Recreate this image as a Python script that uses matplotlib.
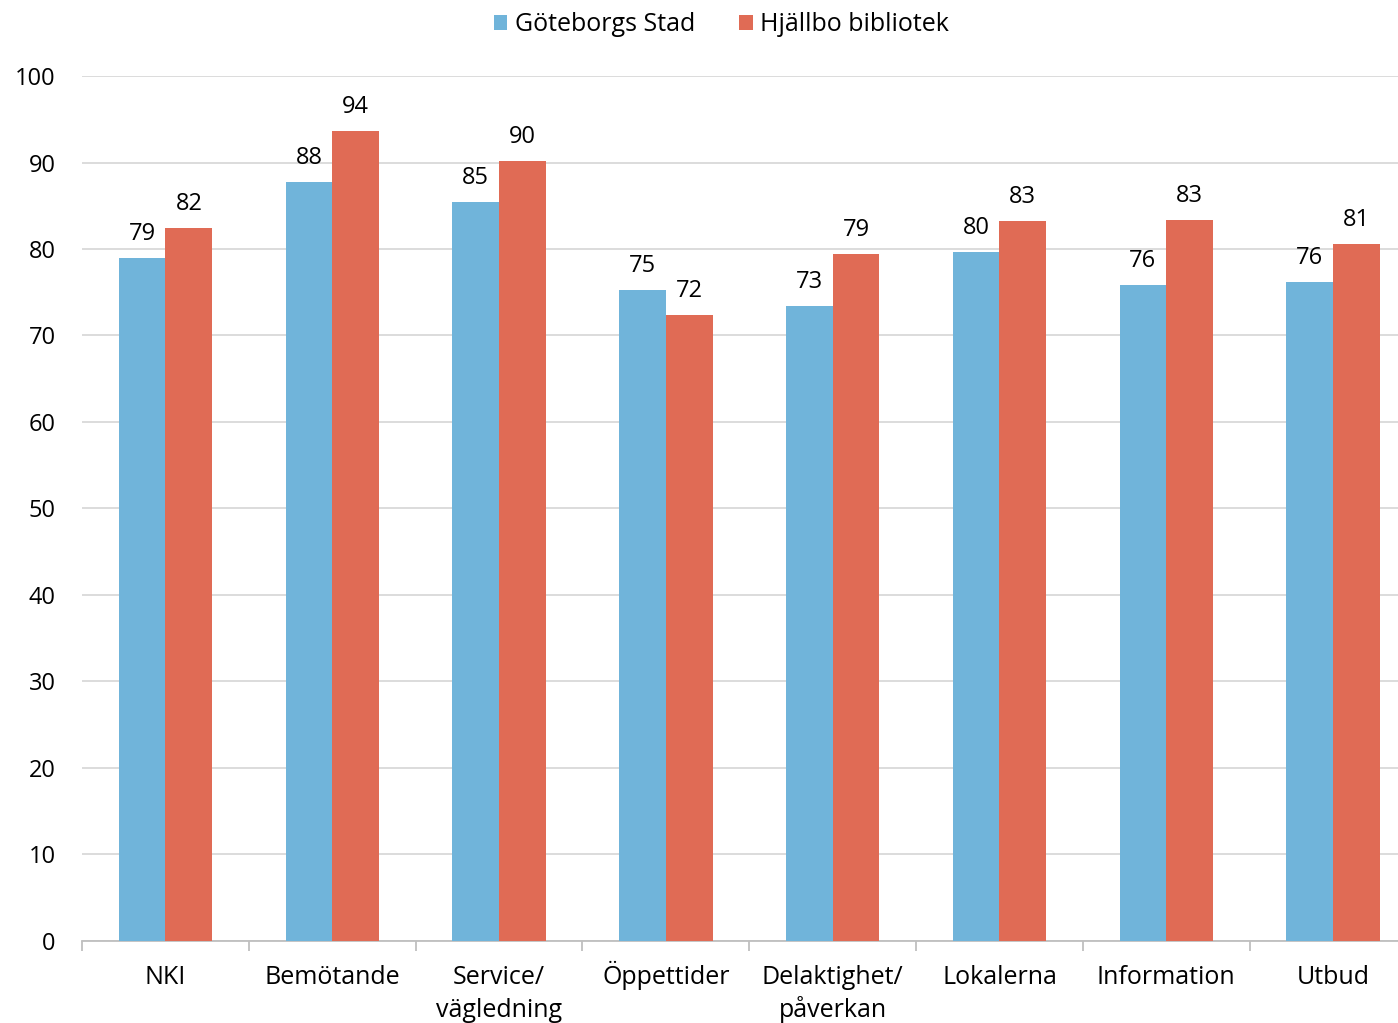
import numpy as np
import matplotlib
matplotlib.use('Agg')
import matplotlib.pyplot as plt

plt.rcParams['font.family'] = ['Open Sans', 'DejaVu Sans']

categories = ["NKI", "Bemötande", "Service/\nvägledning", "Öppettider",
              "Delaktighet/\npåverkan", "Lokalerna", "Information", "Utbud"]
goteborg = [79.0, 87.7, 85.4, 75.3, 73.4, 79.6, 75.8, 76.2]
hjallbo = [82.4, 93.6, 90.2, 72.4, 79.4, 83.2, 83.4, 80.6]
series_names = ["Göteborgs Stad", "Hjällbo bibliotek"]

blue = "#70B4DA"
red = "#E06B55"

fig = plt.figure(figsize=(13.98, 10.23), dpi=100)
# plot area runs a little past the right edge of the figure, like the original
ax = fig.add_axes([0.0587, 0.0802, 0.9545, 0.8455])

x = np.arange(len(categories))
w = 0.28
b1 = ax.bar(x - w / 2, goteborg, w, color=blue, label=series_names[0], zorder=3)
b2 = ax.bar(x + w / 2, hjallbo, w, color=red, label=series_names[1], zorder=3)

for bars, vals in ((b1, goteborg), (b2, hjallbo)):
    for rect, v in zip(bars, vals):
        ax.annotate(f"{round(v):d}", (rect.get_x() + rect.get_width() / 2, v),
                    xytext=(0, 13), textcoords="offset points",
                    ha="center", va="baseline", fontsize=17, color="#000000")

ax.set_xlim(-0.5, len(categories) - 0.5)
ax.set_ylim(0, 100)
ax.set_yticks(range(0, 101, 10))
ax.yaxis.grid(True, color="#D9D9D9", linewidth=1.3, zorder=0)
ax.tick_params(axis="y", length=0, labelsize=17, pad=19)

# category labels: one text per line so every first line shares a baseline
ax.set_xticks(x)
ax.set_xticklabels([])
ax.tick_params(axis="x", length=0)
for xi, name in zip(x, categories):
    for k, line in enumerate(name.split("\n")):
        ax.annotate(line, (xi, 0), xycoords=("data", "axes fraction"),
                    xytext=(0, -31 - 24 * k), textcoords="offset points",
                    ha="center", va="baseline", fontsize=18)
ax.set_xticks(np.arange(len(categories) + 1) - 0.5, minor=True)
ax.tick_params(axis="x", which="minor", length=7, color="#BFBFBF", width=1.3)

for s in ["top", "right", "left"]:
    ax.spines[s].set_visible(False)
ax.spines["bottom"].set_color("#BFBFBF")
ax.spines["bottom"].set_linewidth(1.3)

fig.legend(loc="upper center", bbox_to_anchor=(0.516, 1.01), ncol=2, frameon=False,
           fontsize=18, handlelength=0.55, handleheight=0.55, handletextpad=0.3,
           columnspacing=1.75)

fig.savefig("out.png", dpi=100)
